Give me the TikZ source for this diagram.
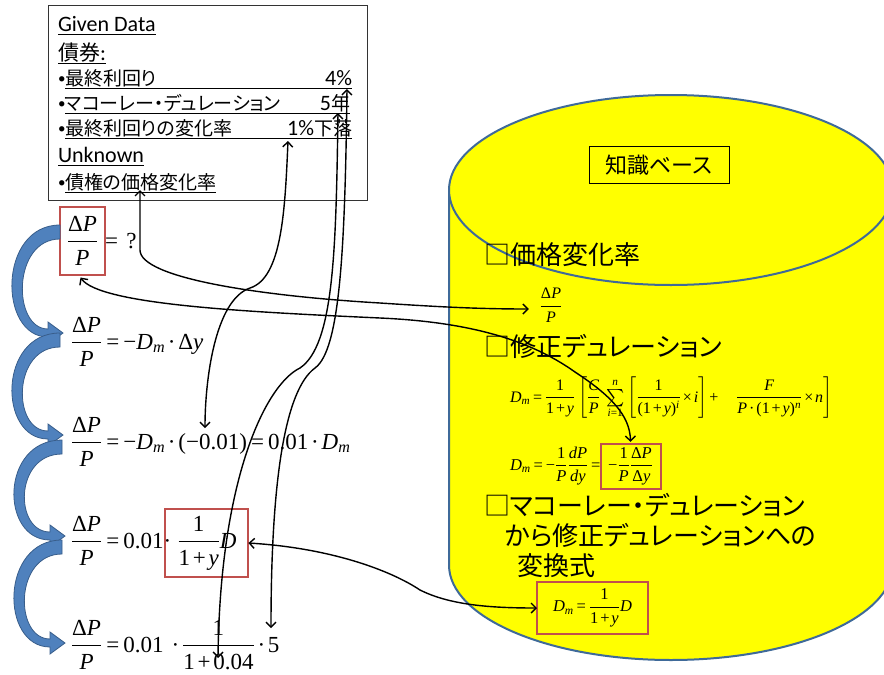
\documentclass[tikz,border=0pt]{standalone}
\usepackage{amsmath}
\usepackage[no-math]{fontspec}
\setmainfont{Carlito}
\newfontfamily\jp[RawFeature=+palt]{Noto Sans CJK JP}
\newfontfamily\libser[NFSSFamily=libser]{Liberation Serif}
\DeclareSymbolFont{tletters}{TU}{libser}{m}{it}
\DeclareSymbolFont{trm}{TU}{libser}{m}{n}
\Umathcode`C="7 \symtletters `C
\Umathcode`D="7 \symtletters `D
\Umathcode`F="7 \symtletters `F
\Umathcode`P="7 \symtletters `P
\Umathcode`d="7 \symtletters `d
\Umathcode`i="7 \symtletters `i
\Umathcode`m="7 \symtletters `m
\Umathcode`n="7 \symtletters `n
\Umathcode`y="7 \symtletters `y
\Umathcode`0="7 \symtrm `0
\Umathcode`1="7 \symtrm `1
\Umathcode`4="7 \symtrm `4
\Umathcode`5="7 \symtrm `5
\Umathcode`.="0 \symtrm `.
\Umathcode`?="5 \symtrm `?
\Umathcode`=="3 \symtrm `=
\Umathcode`+="2 \symtrm `+
\Umathcode`-="2 \symtrm "2212
\Umathcode`(="4 \symtrm `(
\Umathcode`)="5 \symtrm `)
\Umathchardef\TDelta="7 \symtrm "0394
\Umathchardef\tcdot="2 \symtrm "00B7
\Umathchardef\ttimes="2 \symtrm "00D7
\usetikzlibrary{arrows.meta}
\definecolor{kbyellow}{HTML}{FFFF00}
\definecolor{kbline}{HTML}{3F6A99}
\definecolor{redc}{HTML}{C0504D}
\definecolor{bluefill}{HTML}{4F81BD}
\definecolor{blueline}{HTML}{385D8A}
\newcommand{\bluearc}[3]{%
 \begin{scope}[shift={(#1,#2)}]
 \filldraw[bluearrow] (0,-7) .. controls (-62,-7) and (-62,#3+2) .. (-12,#3+2) -- (-12,#3+9) -- (3,#3-2) -- (-12,#3-13) -- (-12,#3-6) .. controls (-48,#3-6) and (-48,7) .. (0,7) -- cycle;
 \end{scope}}
\thickmuskip=3mu plus 1mu
\medmuskip=2mu plus 1mu
\begin{document}
\begin{tikzpicture}[x=1pt,y=-1pt,
  every node/.style={inner sep=0pt, outer sep=0pt},
  lat/.style={font=\fontsize{22}{26}\selectfont, anchor=base west},
  bul/.style={font=\fontsize{15}{18}\selectfont, anchor=base west},
  jt/.style={font=\jp\fontsize{19}{23}\selectfont, anchor=base west},
  kbt/.style={font=\jp\fontsize{26}{30}\selectfont, anchor=base west},
  eqf/.style={font=\fontsize{23}{27}\selectfont},
  kbf/.style={font=\fontsize{16.5}{19}\selectfont},
  uline/.style={line width=0.9pt, black},
  redbox/.style={draw=redc, line width=2pt},
  bluearrow/.style={fill=bluefill, draw=blueline, line width=0.8pt},
  conn/.style={black, line width=1.4pt, {Straight Barb[length=5pt,width=10pt]}-{Straight Barb[length=5pt,width=10pt]}}]
\useasboundingbox (0,0) rectangle (884,675);

% knowledge base cylinder
\filldraw[fill=kbyellow, draw=kbline, line width=2pt]
  (449,190) -- (449,565) .. controls (449,617.5) and (548.4,660) .. (671,660)
  .. controls (793.6,660) and (893,617.5) .. (893,565) -- (893,190) -- cycle;
\filldraw[fill=kbyellow, draw=kbline, line width=2pt] (671,190) ellipse [x radius=222pt, y radius=95pt];

% given data box
\node[draw=black!80, line width=0.8pt, minimum width=319pt, minimum height=195pt, anchor=north west] (gbox) at (48,5) {};
\node[lat] (gd) at (58,31) {Given Data};
\node[lat] (bond) at (58,60) {{\jp\fontsize{21}{24}\selectfont 債券}:};
\node[bul] (b3) at (58,83) {•};
\node[jt] (l3) at (65,85) {最終利回り};
\node[lat, anchor=base east] (v3) at (352,85) {4\%};
\node[bul] (b4) at (58,108) {•};
\node[jt] (l4) at (65,110) {マコーレー・デュレーション};
\node[lat, anchor=base east] (v4) at (350,110) {5{\jp\fontsize{19}{23}\selectfont 年}};
\node[bul] (b5) at (58,133) {•};
\node[jt] (l5) at (65,135) {最終利回りの変化率};
\node[lat, anchor=base east] (v5) at (352,135) {1\%{\jp\fontsize{19}{23}\selectfont 下落}};
\node[lat] (unk) at (58,162) {Unknown};
\node[bul] (b7) at (58,187) {•};
\node[jt] (l7) at (65,189) {債権の価格変化率};
\draw[uline] ([yshift=-3pt]gd.base west) -- ([yshift=-3pt]gd.base east);
\draw[uline] ([yshift=-3pt]bond.base west) -- ([yshift=-3pt]bond.base east);
\draw[uline] ([yshift=-3pt]l3.base west) -- ([yshift=-3pt]v3.base east);
\draw[uline] ([yshift=-3pt]l4.base west) -- ([yshift=-3pt]v4.base east);
\draw[uline] ([yshift=-3pt]l5.base west) -- ([yshift=-3pt]v5.base east);
\draw[uline] ([yshift=-3pt]unk.base west) -- ([yshift=-3pt]unk.base east);
\draw[uline] ([yshift=-3pt]l7.base west) -- ([yshift=-3pt]l7.base east);

% knowledge base contents
\node[draw=black, line width=1pt, minimum width=140pt, minimum height=37pt, font=\jp\fontsize{22}{26}\selectfont] (kbtitle) at (659,165) {知識ベース};
\node[kbt] (h1) at (484,264) {□価格変化率};
\node[font=\fontsize{16}{19}\selectfont] (kbdp) at (551,305) {$\dfrac{\TDelta P}{P}$};
\node[kbt] (h2) at (484,356) {□修正デュレーション};
\node[kbf, font=\fontsize{16}{19}\selectfont, anchor=base west] (f1) at (510,402) {$D_m=\dfrac{1}{1+y}\left[\dfrac{C}{P}\;\textstyle\sum\limits_{i=1}^{n}\left[\dfrac{1}{(1+y)^i}\ttimes i\right]+\quad\dfrac{F}{P\tcdot(1+y)^n}\ttimes n\right]$};
\node[kbf, anchor=base west] (f2a) at (510,470) {$D_m=-\dfrac{1}{P}\dfrac{dP}{dy}=$};
\node[kbf, redbox, minimum width=60pt, minimum height=45pt, anchor=base west] (f2b) at (f2a.base east) {$-\dfrac{1}{P}\dfrac{\TDelta P}{\TDelta y}$};
\node[kbt] (h3) at (484,515) {□マコーレー・デュレーション};
\node[kbt] (h3b) at (505,545) {から修正デュレーションへの};
\node[kbt] (h3c) at (517,575) {変換式};
\node[kbf, redbox, minimum width=111pt, minimum height=52pt] (f3) at (592.5,608) {$D_m=\dfrac{1}{1+y}D$};

% left equations
\node[eqf, redbox, minimum width=45pt, minimum height=68pt, anchor=base] (e1) at (82.5,248) {$\dfrac{\TDelta P}{P}$};
\node[eqf, anchor=base west] (e1r) at (e1.base east) {$=\;\,?$};
\node[eqf, anchor=base west] (e2) at (71,349) {$\dfrac{\TDelta P}{P}=-D_m\tcdot\TDelta y$};
\node[eqf, anchor=base west] (e3) at (71,449) {$\dfrac{\TDelta P}{P}=-D_m\tcdot(-0.01)=0.01\tcdot D_m$};
\node[eqf, anchor=base west] (e4a) at (71,548) {$\dfrac{\TDelta P}{P}=0.01\tcdot$};
\node[eqf, redbox, minimum width=83pt, minimum height=68pt, anchor=base west] (e4b) at ([xshift=-6pt]e4a.base east) {$\dfrac{1}{1+y}D$};
\node[eqf, anchor=base west] (e5) at (71,652) {$\dfrac{\TDelta P}{P}=0.01\ \tcdot\dfrac{1}{1+0.04}\tcdot 5$};

% blue curved arrows
\bluearc{60}{232}{103}
\bluearc{60}{340}{97}
\bluearc{62}{447}{91}
\bluearc{62}{547}{98}

% connector end points
\coordinate (pu) at (140,190);
\coordinate (p1) at (288,141);
\coordinate (p4) at (347,89);
\coordinate (p5) at (338,113);
\coordinate (q0) at (205,428);
\coordinate (q004) at (218,658);
\coordinate (q5) at (271,628);

% connectors
\draw[conn] (pu) -- (140,250) .. controls (140,278) and (260,296) .. (380,303) .. controls (440,307) and (480,309) .. ([xshift=-11pt,yshift=-4pt]kbdp.west);
\draw[conn] ([xshift=-2pt,yshift=-3pt]e1.south) .. controls (100,305) and (250,312) .. (380,318) .. controls (470,322) and (530,340) .. (575,372) .. controls (610,395) and (630,415) .. ([yshift=2pt]f2b.north);
\draw[conn] (p1) .. controls (285,210) and (282,278) .. (250,288) .. controls (215,300) and (205,380) .. (q0);
\draw[conn] (p5) .. controls (336,250) and (334,345) .. (300,368) .. controls (265,385) and (220,480) .. (q004);
\draw[conn] (p4) .. controls (345,250) and (340,350) .. (315,368) .. controls (285,390) and (271,480) .. (q5);
\draw[conn] (e4b.east) .. controls (330,548) and (390,570) .. (420,590) .. controls (450,605) and (490,608) .. (f3.west);
\end{tikzpicture}
\end{document}
